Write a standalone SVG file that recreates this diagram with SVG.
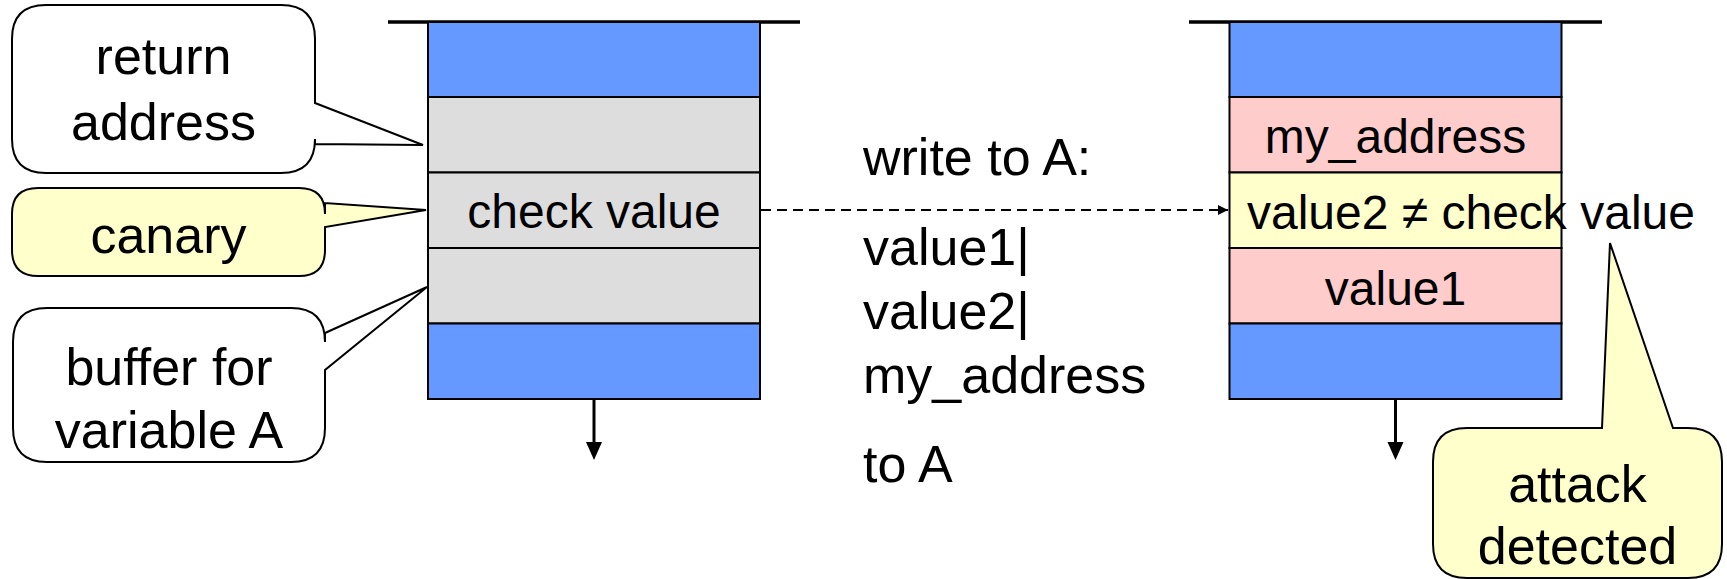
<svg xmlns="http://www.w3.org/2000/svg" width="1727" height="579" viewBox="0 0 1727 579">
<defs>
<style>
text{font-family:"Liberation Sans",Arial,sans-serif;fill:#000}
.big{font-size:52px}
.stk{font-size:48px}
.c{text-anchor:middle}
.blue{fill:#6699FF;stroke:#000;stroke-width:2}
.gray{fill:#DDDDDD;stroke:#000;stroke-width:2}
.pink{fill:#FFCCCC;stroke:#000;stroke-width:2}
.yel{fill:#FFFFCC;stroke:#000;stroke-width:2}
.white{fill:#FFFFFF;stroke:#000;stroke-width:2}
.top{stroke:#000;stroke-width:3.5}
.down{stroke:#000;stroke-width:3}
.dash{stroke:#000;stroke-width:2.2;stroke-dasharray:10,6;fill:none}
</style>
<marker id="ah" viewBox="0 0 10 10" refX="10" refY="5" markerWidth="12" markerHeight="10" markerUnits="userSpaceOnUse" orient="auto"><path d="M0,0 L10,5 L0,10 z" fill="#000"/></marker>
</defs>

<g id="stack-left">
<line class="top" x1="388" y1="22" x2="800" y2="22"/>
<rect class="blue" x="428" y="22" width="332" height="75"/>
<rect class="gray" x="428" y="97" width="332" height="75.5"/>
<rect class="gray" x="428" y="172.5" width="332" height="75.5"/>
<rect class="gray" x="428" y="248" width="332" height="75.5"/>
<rect class="blue" x="428" y="323.5" width="332" height="75.5"/>
<text class="stk c" x="594" y="228">check value</text>
</g>

<g id="stack-right">
<line class="top" x1="1189" y1="22" x2="1602" y2="22"/>
<rect class="blue" x="1229.5" y="22" width="332" height="75"/>
<rect class="pink" x="1229.5" y="97" width="332" height="75.5"/>
<rect class="yel" x="1229.5" y="172.5" width="332" height="75.5"/>
<rect class="pink" x="1229.5" y="248" width="332" height="75.5"/>
<rect class="blue" x="1229.5" y="323.5" width="332" height="75.5"/>
<text class="stk c" x="1395.5" y="153">my_address</text>
<text class="stk" x="1247" y="229">value2 ≠ check value</text>
<text class="stk c" x="1395.5" y="305">value1</text>
</g>

<g id="callout-return">
<path class="white" d="M46,5 H281 Q315,5 315,39 V103 L423,145 L315,144 V139 Q315,173 281,173 H46 Q12,173 12,139 V39 Q12,5 46,5 Z"/>
<text class="big c" x="163.5" y="74">return</text>
<text class="big c" x="163.5" y="140">address</text>
</g>

<g id="callout-canary">
<path class="yel" d="M38,188 H299 Q325,188 325,214 V203 L426,210 L325,227 V250 Q325,276 299,276 H38 Q12,276 12,250 V214 Q12,188 38,188 Z"/>
<text class="big c" x="168.5" y="253">canary</text>
</g>

<g id="callout-buffer">
<path class="white" d="M47,308 H291 Q325,308 325,342 V333 L427,287 L325,370 V428 Q325,462 291,462 H47 Q13,462 13,428 V342 Q13,308 47,308 Z"/>
<text class="big c" x="169" y="385">buffer for</text>
<text class="big c" x="169" y="448">variable A</text>
</g>

<g id="callout-attack">
<path class="yel" d="M1467,428 H1602 L1610,243 L1673,428 H1688 Q1722,428 1722,462 V544 Q1722,578 1688,578 H1467 Q1433,578 1433,544 V462 Q1433,428 1467,428 Z"/>
<text class="big c" x="1577.5" y="502">attack</text>
<text class="big c" x="1577.5" y="564">detected</text>
</g>

<g id="label-write">
<text class="big" x="863" y="175">write to A:</text>
<text class="big" x="863" y="265">value1|</text>
<text class="big" x="863" y="329">value2|</text>
<text class="big" x="863" y="393">my_address</text>
<text class="big" x="863" y="482">to A</text>
</g>

<g id="connectors">
<line class="dash" x1="761" y1="210" x2="1228" y2="210" marker-end="url(#ah)"/>
<line class="down" x1="594" y1="399" x2="594" y2="445"/>
<path d="M586,442 L602,442 L594,460 Z" fill="#000"/>
<line class="down" x1="1395.5" y1="399" x2="1395.5" y2="445"/>
<path d="M1387.5,442 L1403.5,442 L1395.5,460 Z" fill="#000"/>
</g>
</svg>
